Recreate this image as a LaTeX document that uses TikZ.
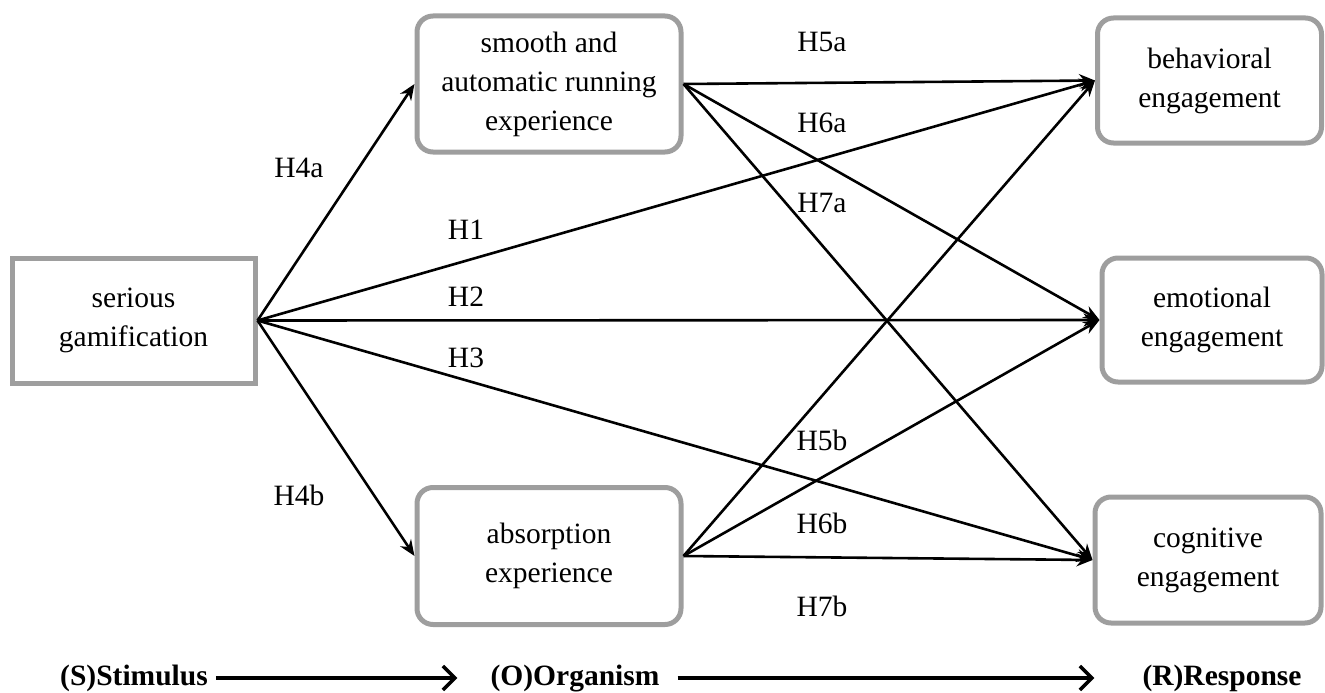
\documentclass[tikz,border=0pt]{standalone}
\usepackage{fontspec}
\setmainfont{Liberation Serif}
\usetikzlibrary{arrows.meta}
\definecolor{boxgray}{gray}{0.62}
\begin{document}
\begin{tikzpicture}[x=1pt,y=-1pt,
  every node/.style={font=\fontsize{29.5}{39}\selectfont, align=center},
  sqbox/.style={draw=boxgray, line width=5pt, minimum width=#1, inner sep=0pt},
  rbox/.style={draw=boxgray, line width=5pt, rounded corners=16pt, inner sep=0pt},
  hyp/.style={inner sep=0pt},
  link/.style={line width=2.6pt, -{Stealth[length=16pt,width=13pt]}},
  flow/.style={line width=3.5pt, -{Straight Barb[length=12pt,width=24pt,line width=3.5pt]}},
  stage/.style={font=\fontsize{29.5}{39}\selectfont\bfseries, inner sep=0pt, text height=20pt, text depth=6pt}
]
\useasboundingbox (0,0) rectangle (1325,693);

\node[sqbox=243pt, minimum height=125pt] (ser) at (133.5,320.5) {serious\\gamification};
\node[rbox, minimum width=264pt, minimum height=136pt] (smo) at (549,84) {smooth and\\automatic running\\experience};
\node[rbox, minimum width=264pt, minimum height=137pt] (abs) at (549,556) {absorption\\experience};
\node[rbox, minimum width=224pt, minimum height=125pt] (beh) at (1209.5,80.5) {behavioral\\engagement};
\node[rbox, minimum width=220pt, minimum height=124pt] (emo) at (1212,320) {emotional\\engagement};
\node[rbox, minimum width=226pt, minimum height=126pt] (cog) at (1208,560) {cognitive\\engagement};

\draw[link] (ser.east) -- (smo.west);
\draw[link] (ser.east) -- (abs.west);
\draw[link] (ser.east) -- (beh.west);
\draw[link] (ser.east) -- (emo.west);
\draw[link] (ser.east) -- (cog.west);
\draw[link] (smo.east) -- (beh.west);
\draw[link] (smo.east) -- (emo.west);
\draw[link] (smo.east) -- (cog.west);
\draw[link] (abs.east) -- (beh.west);
\draw[link] (abs.east) -- (emo.west);
\draw[link] (abs.east) -- (cog.west);

\node[hyp] (h4a) at (299,168) {H4a};
\node[hyp] (h1) at (466,230) {H1};
\node[hyp] (h2) at (466,297) {H2};
\node[hyp] (h3) at (466,358) {H3};
\node[hyp] (h4b) at (299,495) {H4b};
\node[hyp] (h5a) at (822,42) {H5a};
\node[hyp] (h6a) at (822,123) {H6a};
\node[hyp] (h7a) at (822,203) {H7a};
\node[hyp] (h5b) at (822,440) {H5b};
\node[hyp] (h6b) at (822,523) {H6b};
\node[hyp] (h7b) at (822,606) {H7b};

\node[stage] (S) at (134,678) {(S)Stimulus};
\node[stage] (O) at (575,678) {(O)Organism};
\node[stage] (R) at (1222,678) {(R)Response};
\draw[flow, shorten <=8pt, shorten >=33pt] (S.east) -- (O.west);
\draw[flow, shorten <=18pt, shorten >=48pt] (O.east) -- (R.west);
\end{tikzpicture}
\end{document}
